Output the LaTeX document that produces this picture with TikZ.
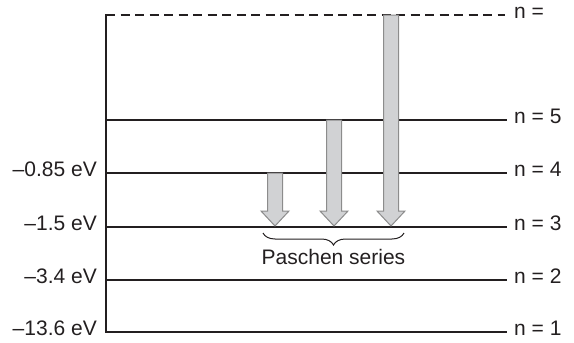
\documentclass[tikz,border=0pt]{standalone}
\usepackage{fontspec}
\setmainfont{Liberation Sans}
\usetikzlibrary{calc,decorations.pathreplacing}
\definecolor{ink}{HTML}{231F20}
\definecolor{arrfill}{HTML}{D1D2D4}
\definecolor{arredge}{HTML}{8C8C8C}
\tikzset{
  level/.style={draw=ink, line width=1.6pt},
  inflevel/.style={draw=ink, line width=1.6pt, dash pattern=on 9pt off 5.5pt},
  nlab/.style={anchor=west, inner sep=0pt, text=ink, text height=0.72em, text depth=0pt, font=\fontsize{21}{25}\selectfont},
  elab/.style={anchor=east, inner sep=0pt, text=ink, text height=0.72em, text depth=0pt, font=\fontsize{21}{25}\selectfont},
  fatarrow/.style={fill=arrfill, draw=arredge, line width=1pt, line join=miter,
    to path={let \p1=(\tikztostart), \p2=(\tikztotarget) in
      (\x1-7.5pt,\y1) -- (\x1-7.5pt,\y2+15pt) -- (\x1-14pt,\y2+15pt) -- (\x2,\y2)
      -- (\x1+14pt,\y2+15pt) -- (\x1+7.5pt,\y2+15pt) -- (\x1+7.5pt,\y1) -- cycle}},
  bracestyle/.style={draw=ink, line width=1pt, decorate, decoration={brace, mirror, amplitude=12pt}},
}
\begin{document}
\begin{tikzpicture}[x=1pt,y=-1pt]
\useasboundingbox (0,0) rectangle (574,343);
% level end points
\coordinate (Li) at (106,15);  \coordinate (Ri) at (505,15);
\coordinate (L5) at (106,120); \coordinate (R5) at (507,120);
\coordinate (L4) at (106,173); \coordinate (R4) at (507,173);
\coordinate (L3) at (106,227); \coordinate (R3) at (507,227);
\coordinate (L2) at (106,280); \coordinate (R2) at (507,280);
\coordinate (L1) at (106,332); \coordinate (R1) at (507,332);
% axis and levels
\draw[level, line cap=rect] (Li) -- (L1);
\draw[inflevel] (Li) -- (Ri);
\draw[level] (L5) -- (R5);
\draw[level] (L4) -- (R4);
\draw[level] (L3) -- (R3);
\draw[level] (L2) -- (R2);
\draw[level] (L1) -- (R1);
% right labels
\node[nlab] (ni) at (514,15) {n =};
\node[nlab] (n5) at (514,120) {n = 5};
\node[nlab] (n4) at (514,173) {n = 4};
\node[nlab] (n3) at (514,227) {n = 3};
\node[nlab] (n2) at (514,280) {n = 2};
\node[nlab] (n1) at (514,332) {n = 1};
% left labels
\node[elab] (e4) at (97,173) {–0.85 eV};
\node[elab] (e3) at (97,227) {–1.5 eV};
\node[elab] (e2) at (97,280) {–3.4 eV};
\node[elab] (e1) at (97,332) {–13.6 eV};
% arrows
\coordinate (a1t) at (275,173); \coordinate (a1b) at (275,226);
\coordinate (a2t) at (334,120); \coordinate (a2b) at (334,226);
\coordinate (a3t) at (391,15);  \coordinate (a3b) at (391,226);
\path[fatarrow] (a1t) to (a1b);
\path[fatarrow] (a2t) to (a2b);
\path[fatarrow] (a3t) to (a3b);
% brace
\coordinate (bl) at (263,233); \coordinate (br) at (404,233);
\draw[bracestyle] (bl) -- (br);
\node[anchor=base, inner sep=0pt, text=ink, font=\fontsize{21}{25}\selectfont] (ps) at (333.5,264) {Paschen series};
\end{tikzpicture}
\end{document}
